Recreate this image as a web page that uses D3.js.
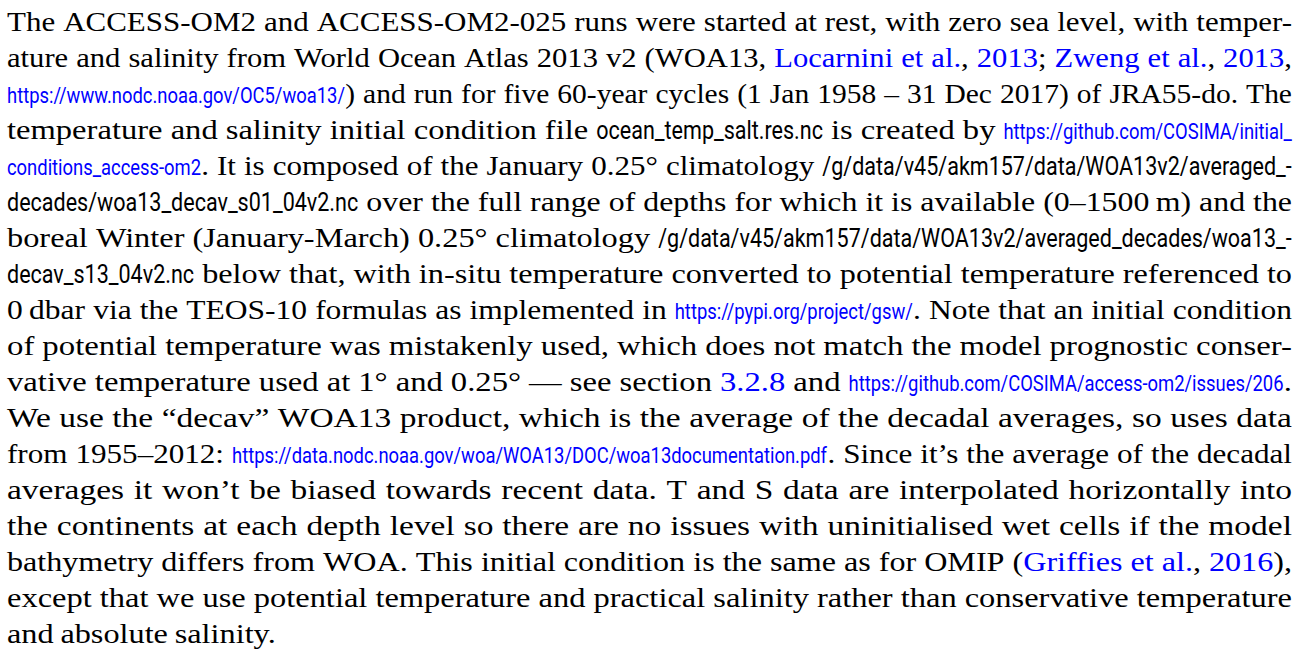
<!DOCTYPE html>
<html>
<head>
<meta charset="utf-8">
<script src="https://cdn.jsdelivr.net/npm/d3@7"></script>
<style>
  body { margin: 0; background: #fff; }
</style>
</head>
<body>
<div id="d3"></div>
<script>
// each line is a list of [style, text] runs, line breaks as in the picture
var line01 = [["rm", "The ACCESS-OM2 and ACCESS-OM2-025 runs were started at rest, with zero sea level, with temper-"]];
var line02 = [["rm", "ature and salinity from World Ocean Atlas 2013 v2 (WOA13, "], ["cite", "Locarnini et al."], ["rm", ", "], ["cite", "2013"], ["rm", "; "], ["cite", "Zweng et al."], ["rm", ", "], ["cite", "2013"], ["rm", ","]];
var line03 = [["url", "https://www.nodc.noaa.gov/OC5/woa13/"], ["rm", ") and run for five 60-year cycles (1 Jan 1958 \u2013 31 Dec 2017) of JRA55-do. The"]];
var line04 = [["rm", "temperature and salinity initial condition file "], ["tt", "ocean_temp_salt.res.nc"], ["rm", " is created by "], ["url", "https://github.com/COSIMA/initial_"]];
var line05 = [["url", "conditions_access-om2"], ["rm", ". It is composed of the January 0.25\u00b0 climatology "], ["tt", "/g/data/v45/akm157/data/WOA13v2/averaged_-"]];
var line06 = [["tt", "decades/woa13_decav_s01_04v2.nc"], ["rm", " over the full range of depths for which it is available (0\u20131500\u2009m) and the"]];
var line07 = [["rm", "boreal Winter (January-March) 0.25\u00b0 climatology "], ["tt", "/g/data/v45/akm157/data/WOA13v2/averaged_decades/woa13_-"]];
var line08 = [["tt", "decav_s13_04v2.nc"], ["rm", " below that, with in-situ temperature converted to potential temperature referenced to"]];
var line09 = [["rm", "0\u2009dbar via the TEOS-10 formulas as implemented in "], ["url", "https://pypi.org/project/gsw/"], ["rm", ". Note that an initial condition"]];
var line10 = [["rm", "of potential temperature was mistakenly used, which does not match the model prognostic conser-"]];
var line11 = [["rm", "vative temperature used at 1\u00b0 and 0.25\u00b0 \u2014 see section "], ["cite", "3.2.8"], ["rm", " and "], ["url", "https://github.com/COSIMA/access-om2/issues/206"], ["rm", "."]];
var line12 = [["rm", "We use the \u201cdecav\u201d WOA13 product, which is the average of the decadal averages, so uses data"]];
var line13 = [["rm", "from 1955\u20132012: "], ["url", "https://data.nodc.noaa.gov/woa/WOA13/DOC/woa13documentation.pdf"], ["rm", ". Since it\u2019s the average of the decadal"]];
var line14 = [["rm", "averages it won\u2019t be biased towards recent data. T and S data are interpolated horizontally into"]];
var line15 = [["rm", "the continents at each depth level so there are no issues with uninitialised wet cells if the model"]];
var line16 = [["rm", "bathymetry differs from WOA. This initial condition is the same as for OMIP ("], ["cite", "Griffies et al."], ["rm", ", "], ["cite", "2016"], ["rm", "),"]];
var line17 = [["rm", "except that we use potential temperature and practical salinity rather than conservative temperature"]];
var line18 = [["rm", "and absolute salinity."]];

var lines = [line01, line02, line03, line04, line05, line06, line07, line08, line09,
             line10, line11, line12, line13, line14, line15, line16, line17, line18];

var width = 1306;
var height = 652;
var margin = {left: 7, right: 14, top: 31, bottom: 9};
var targetGap = 8;
var stretchRange = [1.06, 1.24];

var serif = "'Liberation Serif', 'Times New Roman', serif";
var narrow = "'Liberation Sans Narrow', 'Arial Narrow', monospace";

var svg = d3.select("#d3").append("svg")
    .attr("width", width)
    .attr("height", height);

// check whether a narrow sans is installed, else squeeze Roboto
var probe = svg.append("text").attr("font-size", 40).text("https://www.example.org/abc_def");
var w1 = probe.attr("font-family", narrow).node().getComputedTextLength();
var w2 = probe.attr("font-family", "monospace").node().getComputedTextLength();
probe.remove();
var hasNarrow = Math.abs(w1 - w2) > 0.5;
var sansFamily = hasNarrow ? narrow : "Roboto, 'Open Sans', sans-serif";
var sansScale = hasNarrow ? 1 : 0.82;

var styles = {
    rm:   {family: serif, size: 27, fill: "#000", serif: true},
    cite: {family: serif, size: 27, fill: "#0000ff", serif: true},
    tt:   {family: sansFamily, size: 26, fill: "#000", sx: sansScale * 1.01},
    url:  {family: sansFamily, size: 22, fill: "#0000ff", sx: sansScale * 1.02}
};

var y = d3.scaleLinear()
    .domain([0, lines.length - 1])
    .range([margin.top, height - margin.bottom]);

var x = d3.scaleLinear()
    .domain([0, 1])
    .range([margin.left, width - margin.right]);

var measure = svg.append("text").attr("visibility", "hidden");
function textWidth(st, t) {
    var s = styles[st];
    measure.attr("font-family", s.family).attr("font-size", s.size).text(t);
    return measure.node().getComputedTextLength();
}

// split runs into boxes (words); pieces without a space between them stay glued
function toBoxes(runs) {
    var boxes = [[]];
    runs.forEach(function(r) {
        r[1].split(" ").forEach(function(p, i) {
            if (i > 0) boxes.push([]);
            if (p) boxes[boxes.length - 1].push({st: r[0], t: p, w0: textWidth(r[0], p)});
        });
    });
    return boxes.filter(function(b) { return b.length; });
}

var span = x(1) - x(0);

// per line: serif widths, sans widths, number of gaps, and a serif stretch
var layout = lines.map(function(runs) {
    var boxes = toBoxes(runs);
    var S = 0, U = 0;
    boxes.forEach(function(b) {
        b.forEach(function(p) {
            if (styles[p.st].serif) S += p.w0; else U += p.w0 * styles[p.st].sx;
        });
    });
    var n = boxes.length - 1;
    var sx = (span - U - n * targetGap) / S;
    sx = Math.max(stretchRange[0], Math.min(stretchRange[1], sx));
    return {boxes: boxes, S: S, U: U, n: n, sx: sx};
});
var last = layout[layout.length - 1];
last.sx = d3.median(layout.slice(0, -1), function(l) { return l.sx; });

var pieces = [];
layout.forEach(function(l, li) {
    var gap = (l === last) ? targetGap * 0.85 : (span - l.U - l.sx * l.S) / l.n;
    var cx = x(0);
    l.boxes.forEach(function(b) {
        b.forEach(function(p) {
            var sx = styles[p.st].serif ? l.sx : styles[p.st].sx;
            pieces.push({st: p.st, t: p.t, x: cx, y: y(li), sx: sx});
            cx += p.w0 * sx;
        });
        cx += gap;
    });
});
measure.remove();

svg.append("g").selectAll("text")
    .data(pieces).enter().append("text")
    .attr("transform", function(d) {
        return "translate(" + d.x + "," + d.y + ") scale(" + d.sx + ",1)";
    })
    .attr("font-family", function(d) { return styles[d.st].family; })
    .attr("font-size", function(d) { return styles[d.st].size; })
    .attr("fill", function(d) { return styles[d.st].fill; })
    .style("white-space", "pre")
    .text(function(d) { return d.t; });
</script>
</body>
</html>
